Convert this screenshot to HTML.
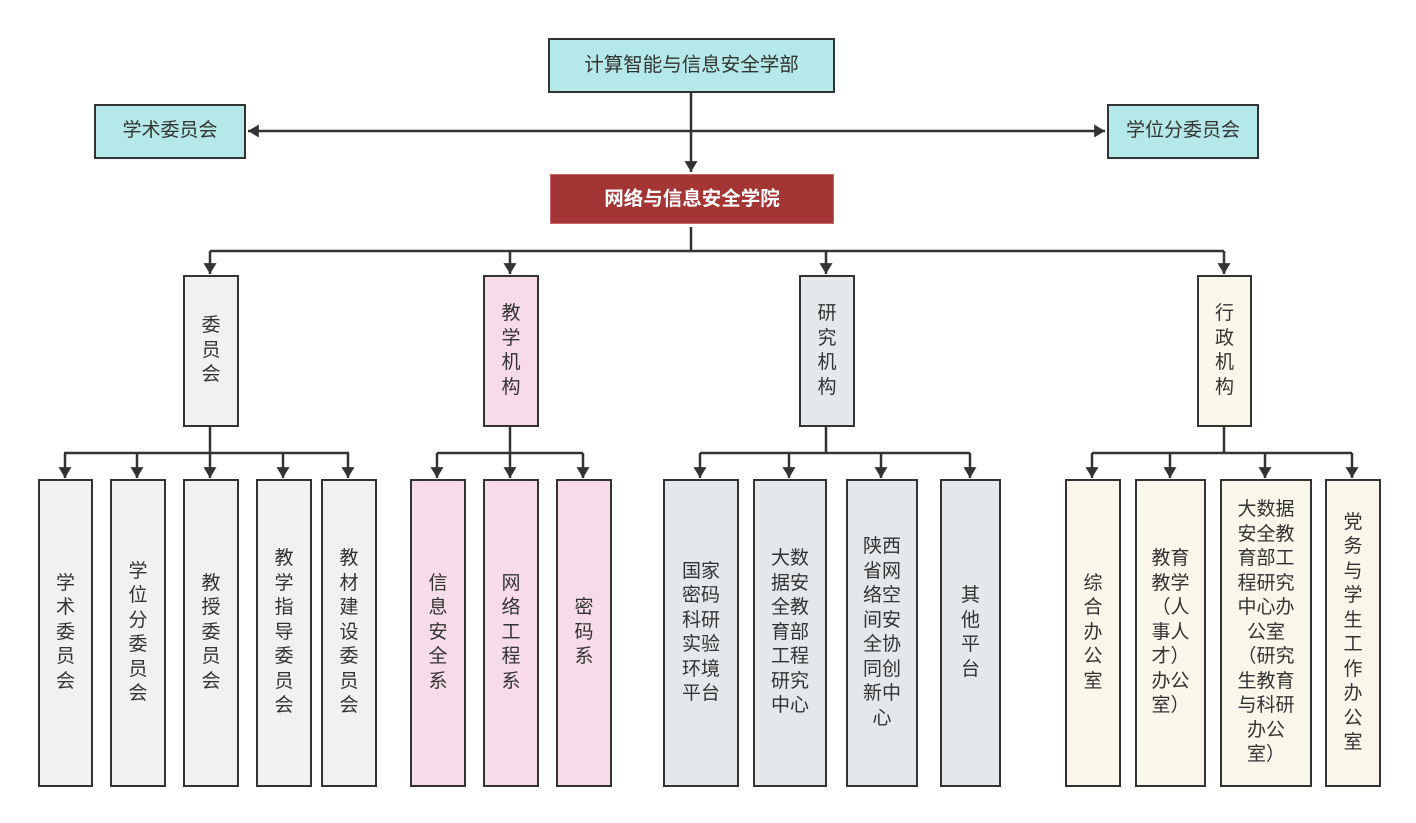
<!DOCTYPE html>
<html><head><meta charset="utf-8"><style>
body{margin:0;width:1416px;height:823px;background:#fff;position:relative;overflow:hidden;font-family:"Liberation Sans","Noto Sans CJK SC",sans-serif;color:#333}
.b{position:absolute;box-sizing:border-box;border:2.5px solid #333;display:flex;align-items:center;justify-content:center;text-align:center;font-size:19px;line-height:24.5px}
.c{background:#b5e8e8}.g{background:#f1f1f1}.p{background:#f7dbe9}.s{background:#e4e8eb}.y{background:#faf6e9}
svg{position:absolute;left:0;top:0}
</style></head><body>
<svg width="1416" height="823">
<defs>
<marker id="d" viewBox="0 0 10 12" markerWidth="11" markerHeight="13" refX="10" refY="6" orient="auto" markerUnits="userSpaceOnUse"><path d="M0,0 L10,6 L0,12z" fill="#333"/></marker></defs>
<g stroke="#333" stroke-width="2.5" fill="none">
<line x1="691" y1="92" x2="691" y2="172" marker-end="url(#d)"/>
<line x1="691" y1="131" x2="248" y2="131" marker-end="url(#d)"/>
<line x1="691" y1="131" x2="1105" y2="131" marker-end="url(#d)"/>
<line x1="691" y1="227" x2="691" y2="251"/>
<line x1="210" y1="251" x2="1224" y2="251"/>
<line x1="210" y1="251" x2="210" y2="274" marker-end="url(#d)"/>
<line x1="510" y1="251" x2="510" y2="274" marker-end="url(#d)"/>
<line x1="826" y1="251" x2="826" y2="274" marker-end="url(#d)"/>
<line x1="1224" y1="251" x2="1224" y2="274" marker-end="url(#d)"/>
<line x1="210" y1="426" x2="210" y2="453"/><line x1="64" y1="453" x2="349" y2="453"/>
<line x1="510" y1="426" x2="510" y2="453"/><line x1="437" y1="453" x2="583" y2="453"/>
<line x1="826" y1="426" x2="826" y2="453"/><line x1="700" y1="453" x2="970" y2="453"/>
<line x1="1224" y1="426" x2="1224" y2="453"/><line x1="1092" y1="453" x2="1352" y2="453"/>
<g>
<line x1="65" y1="453" x2="65" y2="478" marker-end="url(#d)"/>
<line x1="137" y1="453" x2="137" y2="478" marker-end="url(#d)"/>
<line x1="210" y1="453" x2="210" y2="478" marker-end="url(#d)"/>
<line x1="283" y1="453" x2="283" y2="478" marker-end="url(#d)"/>
<line x1="348" y1="453" x2="348" y2="478" marker-end="url(#d)"/>
<line x1="437" y1="453" x2="437" y2="478" marker-end="url(#d)"/>
<line x1="510" y1="453" x2="510" y2="478" marker-end="url(#d)"/>
<line x1="583" y1="453" x2="583" y2="478" marker-end="url(#d)"/>
<line x1="700" y1="453" x2="700" y2="478" marker-end="url(#d)"/>
<line x1="789" y1="453" x2="789" y2="478" marker-end="url(#d)"/>
<line x1="881" y1="453" x2="881" y2="478" marker-end="url(#d)"/>
<line x1="970" y1="453" x2="970" y2="478" marker-end="url(#d)"/>
<line x1="1092" y1="453" x2="1092" y2="478" marker-end="url(#d)"/>
<line x1="1170" y1="453" x2="1170" y2="478" marker-end="url(#d)"/>
<line x1="1265" y1="453" x2="1265" y2="478" marker-end="url(#d)"/>
<line x1="1352" y1="453" x2="1352" y2="478" marker-end="url(#d)"/>
</g></g></svg>
<div class="b c" style="left:548px;top:38px;width:287px;height:55px;font-size:19.5px">计算智能与信息安全学部</div>
<div class="b c" style="left:94px;top:104px;width:152px;height:55px">学术委员会</div>
<div class="b c" style="left:1107px;top:104px;width:152px;height:55px">学位分委员会</div>
<div class="b" style="left:550px;top:174px;width:284px;height:50px;background:#a33534;border:1px solid #c66;color:#fff;font-weight:bold;font-size:19.5px">网络与信息安全学院</div>

<div class="b g" style="left:183px;top:275px;width:56px;height:152px">委<br>员<br>会</div>
<div class="b p" style="left:483px;top:275px;width:56px;height:152px">教<br>学<br>机<br>构</div>
<div class="b s" style="left:799px;top:275px;width:56px;height:152px">研<br>究<br>机<br>构</div>
<div class="b y" style="left:1197px;top:275px;width:55px;height:152px">行<br>政<br>机<br>构</div>

<div class="b g" style="left:38px;top:479px;width:55px;height:308px">学<br>术<br>委<br>员<br>会</div>
<div class="b g" style="left:110px;top:479px;width:56px;height:308px">学<br>位<br>分<br>委<br>员<br>会</div>
<div class="b g" style="left:183px;top:479px;width:56px;height:308px">教<br>授<br>委<br>员<br>会</div>
<div class="b g" style="left:256px;top:479px;width:56px;height:308px">教<br>学<br>指<br>导<br>委<br>员<br>会</div>
<div class="b g" style="left:321px;top:479px;width:56px;height:308px">教<br>材<br>建<br>设<br>委<br>员<br>会</div>

<div class="b p" style="left:410px;top:479px;width:56px;height:308px">信<br>息<br>安<br>全<br>系</div>
<div class="b p" style="left:483px;top:479px;width:56px;height:308px">网<br>络<br>工<br>程<br>系</div>
<div class="b p" style="left:556px;top:479px;width:56px;height:308px">密<br>码<br>系</div>

<div class="b s" style="left:663px;top:479px;width:76px;height:308px">国家<br>密码<br>科研<br>实验<br>环境<br>平台</div>
<div class="b s" style="left:753px;top:479px;width:74px;height:308px">大数<br>据安<br>全教<br>育部<br>工程<br>研究<br>中心</div>
<div class="b s" style="left:846px;top:479px;width:72px;height:308px">陕西<br>省网<br>络空<br>间安<br>全协<br>同创<br>新中<br>心</div>
<div class="b s" style="left:940px;top:479px;width:61px;height:308px">其<br>他<br>平<br>台</div>

<div class="b y" style="left:1065px;top:479px;width:56px;height:308px">综<br>合<br>办<br>公<br>室</div>
<div class="b y" style="left:1135px;top:479px;width:71px;height:308px">教育<br>教学<br>（人<br>事人<br>才）<br>办公<br>室）</div>
<div class="b y" style="left:1220px;top:479px;width:92px;height:308px">大数据<br>安全教<br>育部工<br>程研究<br>中心办<br>公室<br>（研究<br>生教育<br>与科研<br>办公<br>室）</div>
<div class="b y" style="left:1325px;top:479px;width:56px;height:308px">党<br>务<br>与<br>学<br>生<br>工<br>作<br>办<br>公<br>室</div>
</body></html>
